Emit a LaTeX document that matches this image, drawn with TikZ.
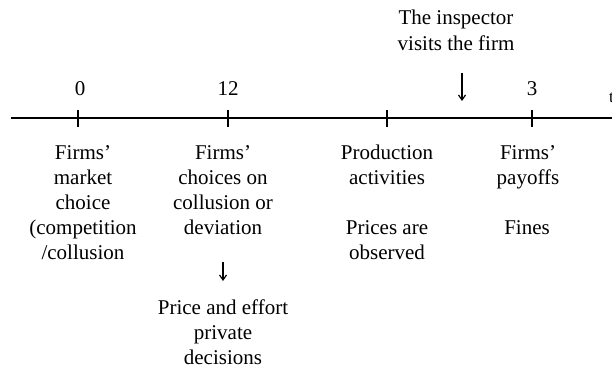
\documentclass[tikz,border=0pt]{standalone}
\usepackage{fontspec}
\setmainfont{Liberation Serif}
\usetikzlibrary{arrows.meta}
\begin{document}
\begin{tikzpicture}[x=1pt,y=-1pt,
  lbl/.style={inner sep=0pt,anchor=base,align=center,font=\fontsize{21}{25}\selectfont},
  axis/.style={line width=1.4pt},
  tickmark/.style={line width=1.4pt},
  darrow/.style={line width=1.2pt,-{Straight Barb[length=5pt,width=7pt]}}]
\useasboundingbox (0,0) rectangle (612,369);
% axis
\coordinate (axL) at (11,118);
\coordinate (axR) at (620,118);
\draw[axis] (axL) -- (axR);
\foreach \n/\x in {t0/78,t1/228,t2/387,t3/532}{
  \coordinate (\n) at (\x,118);
  \draw[tickmark] (\x,110) -- (\x,127);
}
% numbers above
\node[lbl] (n0) at (80,95) {0};
\node[lbl] (n12) at (228,95) {12};
\node[lbl] (n3) at (532,95) {3};
\node[lbl,font=\fontsize{17}{20}\selectfont,anchor=base west] (tt) at (609,102) {t};
% inspector (base anchor = last line)
\node[lbl] (insp) at (456,50) {The inspector\\visits the firm};
\coordinate (ia) at (462,73);
\coordinate (ib) at (462,101);
\draw[darrow] (ia) -- (ib);
% columns
\node[lbl] (c1) at (83,259) {Firms’\\market\\choice\\(competition\\/collusion};
\node[lbl] (c2) at (223,234) {Firms’\\choices on\\collusion or\\deviation};
\coordinate (pa) at (223,262);
\coordinate (pb) at (223,281);
\draw[darrow] (pa) -- (pb);
\node[lbl] (c2b) at (223,364) {Price and effort\\private\\decisions};
\node[lbl] (c3) at (387,184) {Production\\activities};
\node[lbl] (c3b) at (387,259) {Prices are\\observed};
\node[lbl] (c4) at (528,184) {Firms’\\payoffs};
\node[lbl] (c4b) at (527,234) {Fines};
\end{tikzpicture}
\end{document}
